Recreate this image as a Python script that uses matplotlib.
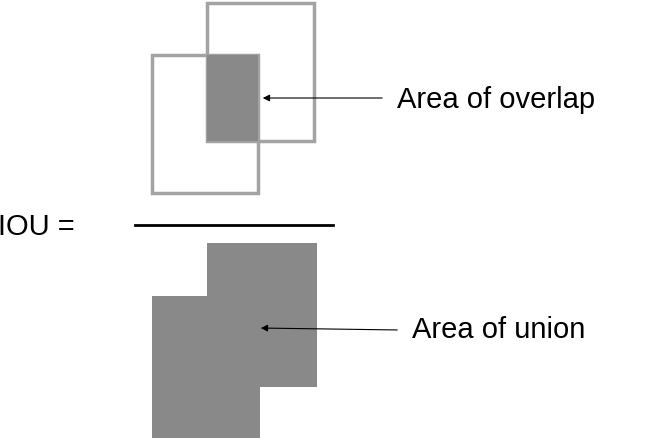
import matplotlib.pyplot as plt
from matplotlib.patches import Rectangle

plt.rcParams['font.family'] = ['Liberation Sans', 'DejaVu Sans']

# boxes in pixel space: (x, y_top, width, height)
box_a = (152, 55, 106, 138)
box_b = (207, 3, 107, 138)
union_a = (152, 296, 108, 142)
union_b = (207, 243, 110, 144)
labels = ["Area of overlap", "Area of union", "IOU ="]

edge = "#a3a3a3"
fill = "#898989"

fig = plt.figure(figsize=(6.49, 4.41), dpi=100)
ax = fig.add_axes([0, 0, 1, 1])
ax.set_xlim(0, 649)
ax.set_ylim(441, 0)
ax.axis("off")

for b in (box_a, box_b):
    ax.add_patch(Rectangle((b[0], b[1]), b[2], b[3], fill=False, edgecolor=edge, lw=2.5))
# overlap fill on top of the outlines
ox = max(box_a[0], box_b[0])
oy = max(box_a[1], box_b[1])
ow = min(box_a[0] + box_a[2], box_b[0] + box_b[2]) - ox
oh = min(box_a[1] + box_a[3], box_b[1] + box_b[3]) - oy
ax.add_patch(Rectangle((ox, oy), ow, oh, facecolor=fill, edgecolor="none"))

for b in (union_a, union_b):
    ax.add_patch(Rectangle((b[0], b[1]), b[2], b[3], facecolor=fill, edgecolor="none"))

ax.plot([135, 333], [225, 225], color="black", lw=2)

arrow = dict(arrowstyle="-|>", color="black", lw=0.8, mutation_scale=10)
ax.annotate("", xy=(260, 98), xytext=(385, 98), arrowprops=arrow)
ax.annotate("", xy=(258, 328), xytext=(400, 330), arrowprops=arrow)

ax.text(397, 100, labels[0], fontsize=21, va="center", ha="left")
ax.text(412, 330, labels[1], fontsize=21, va="center", ha="left")
ax.text(-2, 227, labels[2], fontsize=21, va="center", ha="left")

fig.savefig("out.png", dpi=100)
